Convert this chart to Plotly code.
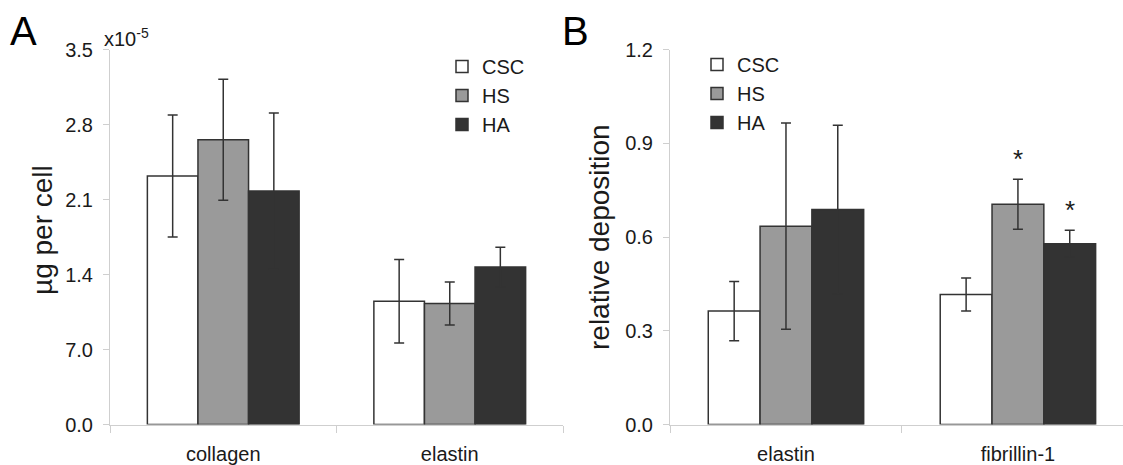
import plotly.graph_objects as go

# ---------------- data ----------------
series = ["CSC", "HS", "HA"]

cats_A = ["collagen", "elastin"]
# values in units of 1e-5 ug per cell
vals_A = {
    "CSC": [2.32, 1.15],
    "HS": [2.66, 1.13],
    "HA": [2.18, 1.47],
}
err_A = {
    "CSC": [0.57, 0.39],
    "HS": [0.565, 0.20],
    "HA": [0.73, 0.185],
}
ytickvals_A = [0.0, 0.7, 1.4, 2.1, 2.8, 3.5]
yticktext_A = ["0.0", "7.0", "1.4", "2.1", "2.8", "3.5"]

cats_B = ["elastin", "fibrillin-1"]
vals_B = {
    "CSC": [0.363, 0.416],
    "HS": [0.635, 0.705],
    "HA": [0.688, 0.579],
}
err_B = {
    "CSC": [0.095, 0.053],
    "HS": [0.33, 0.08],
    "HA": [0.27, 0.043],
}
sig_B = {
    "CSC": [False, False],
    "HS": [False, True],
    "HA": [False, True],
}
ytickvals_B = [0.0, 0.3, 0.6, 0.9, 1.2]

# ---------------- style ----------------
W, H = 1123, 465
FONT = "Liberation Sans, Arial, sans-serif"
TXT = "#1a1a1a"
fills = {"CSC": "#ffffff", "HS": "#9a9a9a", "HA": "#333333"}
EDGE = "#333333"
AXC = "#cfcfcf"


def px_x(p):
    return p / W


def px_y(p):
    return (H - p) / H


ydom = [px_y(424.5), px_y(49.7)]

fig = go.Figure()
for s in series:
    fig.add_bar(
        x=cats_A, y=vals_A[s], name=s, legend="legend",
        xaxis="x", yaxis="y",
        marker=dict(color=fills[s], line=dict(color=EDGE, width=1.5)),
        error_y=dict(type="data", array=err_A[s], color="#333333", thickness=1.5, width=5),
    )
for s in series:
    fig.add_bar(
        x=cats_B, y=vals_B[s], name=s, legend="legend2",
        xaxis="x2", yaxis="y2",
        marker=dict(color=fills[s], line=dict(color=EDGE, width=1.5)),
        error_y=dict(type="data", array=err_B[s], color="#333333", thickness=1.5, width=5),
    )

annotations = []
# significance stars
bar_px = 232 * 0.67 / 3
for j, s in enumerate(series):
    for i, c in enumerate(cats_B):
        if sig_B[s][i]:
            annotations.append(dict(
                x=c, xref="x2", y=vals_B[s][i] + err_B[s][i], yref="y2",
                xshift=(j - 1) * bar_px, yshift=3,
                text="*", showarrow=False, yanchor="bottom",
                font=dict(size=26, color=TXT, family=FONT),
            ))

# panel letters
annotations.append(dict(x=px_x(8), y=px_y(31), xref="paper", yref="paper",
                        text="A", showarrow=False, xanchor="left", yanchor="middle",
                        font=dict(size=40, color="#000", family=FONT)))
annotations.append(dict(x=px_x(560), y=px_y(31), xref="paper", yref="paper",
                        text="B", showarrow=False, xanchor="left", yanchor="middle",
                        font=dict(size=40, color="#000", family=FONT)))
# exponent label
annotations.append(dict(x=px_x(102), y=px_y(38), xref="paper", yref="paper",
                        text="x10<sup>-5</sup>", showarrow=False, xanchor="left", yanchor="middle",
                        font=dict(size=20, color=TXT, family=FONT)))
# axis titles
annotations.append(dict(x=px_x(42), y=px_y(230), xref="paper", yref="paper",
                        text="µg per cell", showarrow=False, textangle=-90,
                        xanchor="center", yanchor="middle",
                        font=dict(size=28, color=TXT, family=FONT)))
annotations.append(dict(x=px_x(599), y=px_y(237), xref="paper", yref="paper",
                        text="relative deposition", showarrow=False, textangle=-90,
                        xanchor="center", yanchor="middle",
                        font=dict(size=28, color=TXT, family=FONT)))

common_y = dict(showline=True, linecolor=AXC, linewidth=1, ticks="outside",
                ticklen=6, tickcolor=AXC, showgrid=False, zeroline=False,
                automargin=False,
                tickfont=dict(size=20, color=TXT, family=FONT), ticklabelstandoff=6)
common_x = dict(type="category", showline=True, linecolor=AXC, linewidth=1,
                ticks="outside", tickson="boundaries", ticklen=7, tickcolor=AXC,
                showgrid=False, zeroline=False, automargin=False,
                tickfont=dict(size=20, color=TXT, family=FONT), ticklabelstandoff=11)

fig.update_layout(
    width=W, height=H, margin=dict(l=0, r=0, t=0, b=0, autoexpand=False),
    paper_bgcolor="white", plot_bgcolor="white",
    barmode="group", bargap=0.33, bargroupgap=0,
    font=dict(family=FONT, color=TXT),
    xaxis=dict(domain=[px_x(110), px_x(563)], anchor="y", range=[-0.5, 1.5],
               categoryorder="array", categoryarray=cats_A, **common_x),
    yaxis=dict(domain=ydom, anchor="x", range=[0, 3.5],
               tickvals=ytickvals_A, ticktext=yticktext_A, **common_y),
    xaxis2=dict(domain=[px_x(670), 1.0], anchor="y2", range=[-0.5, 1.453],
                categoryorder="array", categoryarray=cats_B, **common_x),
    yaxis2=dict(domain=ydom, anchor="x2", range=[0, 1.2],
                tickvals=ytickvals_B, tickformat=".1f", **common_y),
    legend=dict(x=px_x(442), y=px_y(47), xanchor="left", yanchor="top",
                bgcolor="rgba(0,0,0,0)", font=dict(size=20, color=TXT, family=FONT),
                traceorder="normal"),
    legend2=dict(x=px_x(697), y=px_y(45), xanchor="left", yanchor="top",
                 bgcolor="rgba(0,0,0,0)", font=dict(size=20, color=TXT, family=FONT),
                 traceorder="normal"),
    annotations=annotations,
    showlegend=True,
)

fig.write_html("out.html")
